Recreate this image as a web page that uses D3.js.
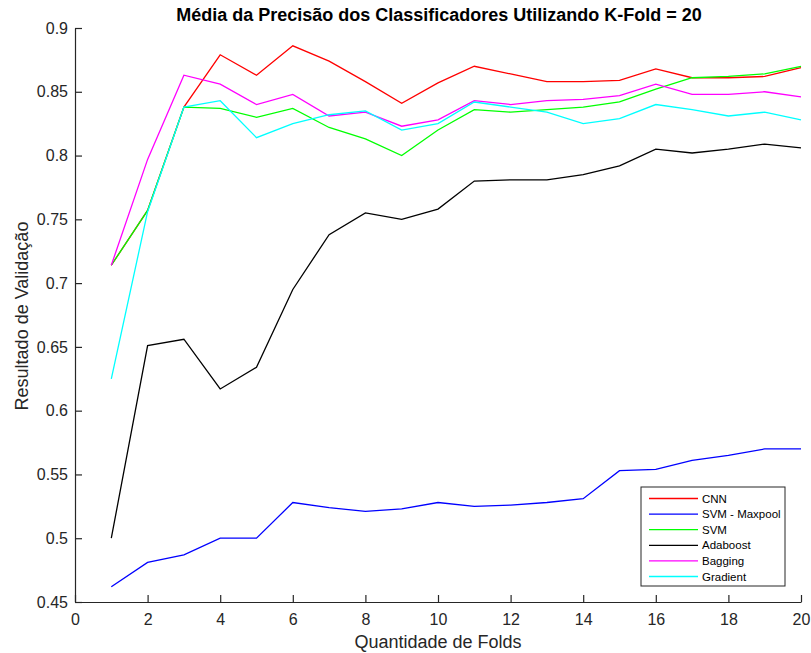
<meta charset="utf-8">
<title>Média da Precisão</title>
<style>
  body { margin: 0; background: #fff; }
  svg { font-family: "Liberation Sans", Arial, Helvetica, sans-serif; }
</style>
<svg width="811" height="653"></svg>
<script src="https://d3js.org/d3.v7.min.js"></script>
<script>

// folds 1..20
var folds = d3.range(1, 21);

var cnn      = [0.714, 0.757, 0.838, 0.879, 0.863, 0.886, 0.874, 0.858, 0.841, 0.857, 0.870, 0.864, 0.858, 0.858, 0.859, 0.868, 0.861, 0.861, 0.862, 0.869];
var svmMax   = [0.462, 0.481, 0.487, 0.500, 0.500, 0.528, 0.524, 0.521, 0.523, 0.528, 0.525, 0.526, 0.528, 0.531, 0.553, 0.554, 0.561, 0.565, 0.570, 0.570];
var svm      = [0.714, 0.757, 0.838, 0.837, 0.830, 0.837, 0.822, 0.813, 0.800, 0.820, 0.836, 0.834, 0.836, 0.838, 0.842, 0.852, 0.861, 0.862, 0.864, 0.870];
var adaboost = [0.500, 0.651, 0.656, 0.617, 0.634, 0.695, 0.738, 0.755, 0.750, 0.758, 0.780, 0.781, 0.781, 0.785, 0.792, 0.805, 0.802, 0.805, 0.809, 0.806];
var bagging  = [0.714, 0.797, 0.863, 0.856, 0.840, 0.848, 0.831, 0.834, 0.823, 0.828, 0.843, 0.840, 0.843, 0.844, 0.847, 0.856, 0.848, 0.848, 0.850, 0.846];
var gradient = [0.625, 0.756, 0.838, 0.843, 0.814, 0.825, 0.832, 0.835, 0.820, 0.825, 0.842, 0.838, 0.834, 0.825, 0.829, 0.840, 0.836, 0.831, 0.834, 0.828];

var seriesNames = ["CNN", "SVM - Maxpool", "SVM", "Adaboost", "Bagging", "Gradient"];
var seriesColors = ["#ff0000", "#0000ff", "#00ff00", "#000000", "#ff00ff", "#00ffff"];
var seriesValues = [cnn, svmMax, svm, adaboost, bagging, gradient];

var xTicks = [0, 2, 4, 6, 8, 10, 12, 14, 16, 18, 20];
var yTicks = [0.45, 0.5, 0.55, 0.6, 0.65, 0.7, 0.75, 0.8, 0.85, 0.9];

var svg = d3.select("svg");
var axisColor = "#262626";

var x = d3.scaleLinear().domain([0, 20]).range([75, 801]);
var y = d3.scaleLinear().domain([0.45, 0.9]).range([602, 28]);

// title
svg.append("text")
    .attr("x", 439).attr("y", 21)
    .attr("text-anchor", "middle")
    .style("font-weight", "bold")
    .style("font-size", "18px")
    .style("fill", "#000")
    .text("Média da Precisão dos Classificadores Utilizando K-Fold = 20");

// lines
var line = d3.line()
    .x(function(d, i) { return x(folds[i]); })
    .y(function(d) { return y(d); });

svg.append("g").selectAll("path")
    .data(seriesValues)
    .enter()
    .append("path")
    .attr("d", line)
    .attr("fill", "none")
    .attr("stroke-width", 1.3)
    .attr("stroke", function(d, i) { return seriesColors[i]; });

// axes (ticks inward like matlab)
var xAxis = svg.append("g")
    .attr("transform", "translate(0,602)")
    .call(d3.axisBottom(x).tickValues(xTicks).tickSizeInner(-7).tickSizeOuter(0).tickPadding(12).tickFormat(d3.format("d")));

var yAxis = svg.append("g")
    .attr("transform", "translate(75,0)")
    .call(d3.axisLeft(y).tickValues(yTicks).tickSizeInner(-7).tickSizeOuter(0).tickPadding(7).tickFormat(function(d) { return String(+d.toFixed(2)); }));

[xAxis, yAxis].forEach(function(a) {
    a.select(".domain").attr("stroke", axisColor).attr("stroke-width", 1.2);
    a.selectAll(".tick line").attr("stroke", axisColor).attr("stroke-width", 1.2);
    a.selectAll(".tick text")
        .style("font-size", "16px")
        .style("font-family", "'Liberation Sans', Arial, sans-serif")
        .attr("fill", axisColor);
});

// axis labels
svg.append("text")
    .attr("x", 438).attr("y", 648)
    .attr("text-anchor", "middle")
    .style("font-size", "18px")
    .attr("fill", axisColor)
    .text("Quantidade de Folds");

svg.append("text")
    .attr("transform", "translate(28,316) rotate(-90)")
    .attr("text-anchor", "middle")
    .style("font-size", "18px")
    .attr("fill", axisColor)
    .text("Resultado de Validação");

// legend
var legend = svg.append("g").attr("transform", "translate(641,487)");
legend.append("rect")
    .attr("width", 144).attr("height", 99)
    .attr("fill", "#fff")
    .attr("stroke", axisColor)
    .attr("stroke-width", 1);

var rows = legend.selectAll("g.row")
    .data(seriesNames)
    .enter()
    .append("g")
    .attr("class", "row")
    .attr("transform", function(d, i) { return "translate(0," + (11.5 + i * 15.6) + ")"; });

rows.append("line")
    .attr("x1", 8).attr("x2", 57)
    .attr("stroke-width", 1.3)
    .attr("stroke", function(d, i) { return seriesColors[i]; });

rows.append("text")
    .attr("x", 61).attr("dy", "0.35em")
    .style("font-size", "11.5px")
    .attr("fill", "#000")
    .text(function(d) { return d; });

</script>
